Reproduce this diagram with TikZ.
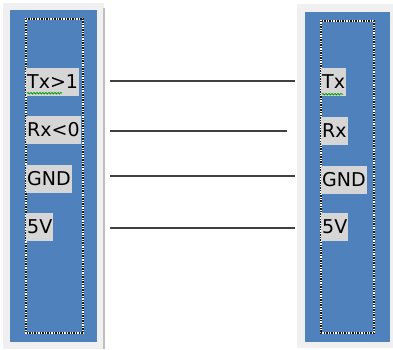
\documentclass[tikz,border=0pt]{standalone}
\usepackage{fontspec}
\setmainfont{DejaVu Sans}
\usepackage{xcolor}
\usetikzlibrary{positioning,decorations.pathmorphing}
\definecolor{panelbg}{HTML}{F0F0F0}
\definecolor{boardblue}{HTML}{4F81BD}
\definecolor{pinbg}{HTML}{D6D6D6}

\begin{document}
\begin{tikzpicture}[x=1pt, y=-1pt,
  panel/.style={fill=panelbg, draw=none},
  board/.style={fill=boardblue, draw=none},
  focus/.style={draw=black!90, line width=1.2pt, dash pattern=on 1.4pt off 1.2pt},
  pin/.style={rectangle, fill=pinbg, anchor=west, inner xsep=1pt, inner ysep=0pt,
              minimum height=28pt, text=black,
              font=\fontsize{19}{19}\selectfont},
  wire/.style={draw=black!75, line width=1.5pt},
  squig/.style={draw=green!60!black, line width=0.8pt,
                decorate, decoration={snake, segment length=3pt, amplitude=0.8pt}},
]
\useasboundingbox[fill=white] (0,0) rectangle (393,349);

% left board
\path[panel] (3,3) rectangle (104,349);
\draw[black!25, line width=1.5pt] (104,8) -- (104,349);
\path[board] (10,10) rectangle (97,342);
\draw[white, line width=1.2pt] (26,19) rectangle (83,333);
\draw[focus] (26,19) rectangle (83,333);

% right board
\path[panel] (297,4) rectangle (393,348);
\path[board] (305,12) rectangle (390,342);
\draw[white, line width=1.2pt] (321,21) rectangle (374,333);
\draw[focus] (321,21) rectangle (374,333);

% pins
\node[pin] (lTx)  at (26,82)  {Tx>1};
\node[pin] (lRx)  at (26,130) {Rx<0};
\node[pin] (lGND) at (26,179) {GND};
\node[pin] (l5V)  at (26,227) {5V};

\node[pin] (rTx)  at (321,82)  {Tx};
\node[pin] (rRx)  at (321,131) {Rx};
\node[pin] (rGND) at (321,180) {GND};
\node[pin] (r5V)  at (321,227) {5V};

\draw[squig] (lTx.south west) ++(1,-3) -- ++(35,0);
\draw[squig] (rTx.south west) ++(1,-2) -- ++(21,0);

% wires
\coordinate (aTx)  at (110,81);  \coordinate (bTx)  at (295,81);
\coordinate (aRx)  at (110,131); \coordinate (bRx)  at (287,131);
\coordinate (aGND) at (110,176); \coordinate (bGND) at (295,176);
\coordinate (a5V)  at (110,228); \coordinate (b5V)  at (295,228);

\draw[wire] (aTx) -- (bTx);
\draw[wire] (aRx) -- (bRx);
\draw[wire] (aGND) -- (bGND);
\draw[wire] (a5V) -- (b5V);
\end{tikzpicture}
\end{document}
